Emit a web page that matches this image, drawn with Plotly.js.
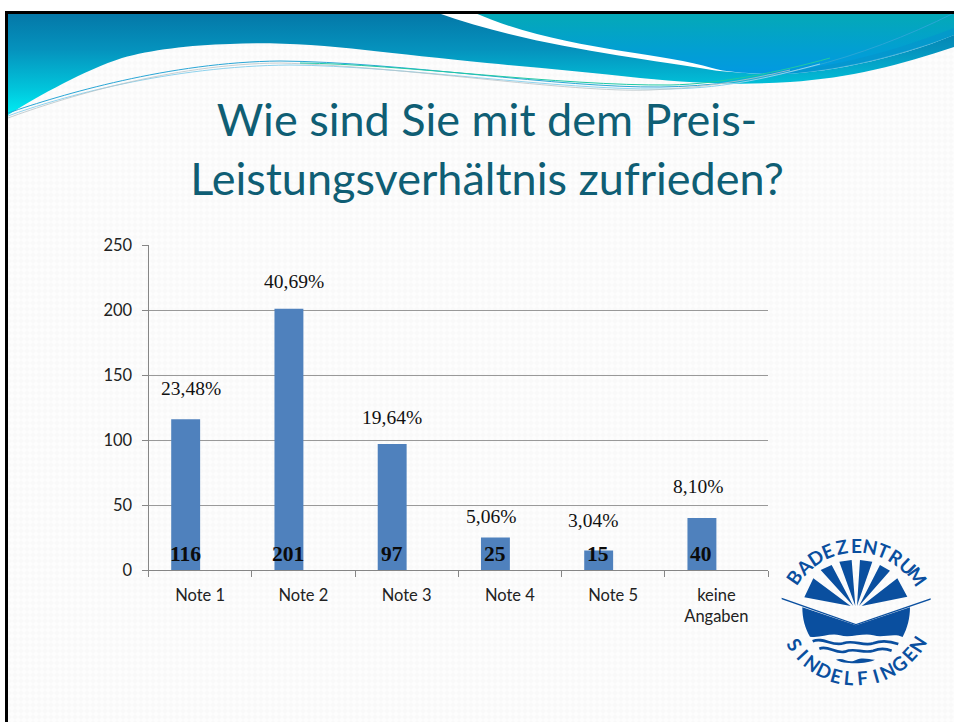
<!DOCTYPE html>
<html><head><meta charset="utf-8">
<script src="https://cdn.plot.ly/plotly-3.0.1.min.js"></script>
<style>html,body{margin:0;padding:0;background:#fff;overflow:hidden}</style>
</head><body><div id="chart" style="width:954px;height:722px"></div>
<script>
const categories = ['Note 1','Note 2','Note 3','Note 4','Note 5','keine<br>Angaben'];
const counts = [116,201,97,25,15,40];
const percentLabels = ['23,48%','40,69%','19,64%','5,06%','3,04%','8,10%'];
const yTicks = [0,50,100,150,200,250];
const titleLines = ['Wie sind Sie mit dem Preis-','Leistungsverhältnis zufrieden?'];
const percentLift = [31,27,26,21,30,32];
const percentShift = [-9,-9,-15,-19,-20,-18];
const logoTop = 'BADEZENTRUM';
const logoBottom = 'SINDELFINGEN';

const W=954,H=722;
const bgSvg = `<svg xmlns="http://www.w3.org/2000/svg" width="954" height="722" viewBox="0 0 954 722">
<defs>
<linearGradient id="a" x1="0" y1="0" x2="0" y2="1"><stop offset="0" stop-color="#0478a8"/><stop offset="0.35" stop-color="#0592bd"/><stop offset="0.75" stop-color="#01c6dc"/><stop offset="1" stop-color="#00eef4"/></linearGradient>
<linearGradient id="b" x1="0" y1="0" x2="0" y2="1"><stop offset="0" stop-color="#04a9b6"/><stop offset="0.55" stop-color="#02a0d0"/><stop offset="1" stop-color="#0299e2"/></linearGradient>
<pattern id="p" width="6" height="6" patternUnits="userSpaceOnUse"><rect width="6" height="6" fill="#fdfdfd"/><path d="M0 3 L3 0 L6 3 L3 6Z" fill="#f9f9f9"/></pattern>
</defs>
<rect width="954" height="722" fill="#fff"/>
<rect x="7" y="12" width="947" height="710" fill="url(#p)"/>
<path d="M8 14 H954 V47 C900 65 850 78 790 82 C745 85 700 84 640 78 C590 72 540 68 487 63 C440 58 400 54 365 50 C320 45 270 42 230 44 C190 45 150 50 122 58 C85 70 40 95 8 115 Z" fill="url(#a)"/>
<path d="M438 13 H954 V35 C890 62 810 76 766 74 C745 73 725 72 712 70 C640 58 530 46 438 13 Z" fill="#ffffff"/>
<path d="M475 13 H954 V35 C890 60 810 76 766 74 C745 73 725 72 712 68 C660 52 560 50 475 13 Z" fill="url(#b)"/>
<path d="M954 35 C900 58 820 76 766 74 L790 70 C850 65 910 45 954 28Z" fill="#0596cc" opacity=".7"/>
<g fill="none" stroke-width="1">
<path d="M8 113 C60 95 170 62 280 61 C400 62 560 88 660 87 C760 86 860 60 954 13" stroke="#2aa6d6"/>
<path d="M8 116 C60 97 170 66 290 65 C400 66 560 90 660 89 C720 89 760 80 820 64" stroke="#8fd3ee"/>
<path d="M8 118 C60 99 170 64 280 63 C400 66 570 93 650 90 C700 88 740 82 790 70" stroke="#b9c4c8" opacity=".8"/>
<path d="M300 63 C400 64 560 86 670 85 C720 84 780 72 830 58" stroke="#1fc9a4"/>
</g>
<rect x="5" y="11" width="949" height="3" fill="#000"/>
<rect x="5" y="11" width="3" height="711" fill="#000"/>
<g transform="translate(760 510) scale(0.3333)" fill="#0a4f9f">
<path d="M133 262 L160 205 L272 288Z M182 180 L215 165 L280 288Z M238 155 L275 150 L286 288Z M300 150 L337 155 L291 288Z M360 165 L390 182 L297 288Z M412 205 L442 260 L305 288Z"/>
<path d="M127 292 L288 346 L450 292 C450 325 442 355 428 381 C400 368 370 385 340 376 C310 368 270 385 240 376 C210 368 180 385 150 380 C135 355 127 325 127 292Z"/>
<path d="M65 263 L288 342 L512 265 L512 269 L288 346 L65 268Z"/>
<g fill="none" stroke="#0a4f9f" stroke-width="8">
<path d="M158 394 C190 380 215 410 250 400 C280 388 310 410 340 400 C370 388 395 395 415 402"/>
<path d="M178 416 C205 405 225 432 255 425 C285 412 310 432 340 422 C360 414 380 416 395 422"/>
</g>
<path d="M228 449 C250 440 265 462 288 450 C310 440 330 450 345 449 C325 462 250 464 228 449Z"/>
</g>
</svg>`;
const bgUri = 'data:image/svg+xml;charset=utf-8,' + encodeURIComponent(bgSvg);

const annotations = [];
counts.forEach((v,i)=>{
  annotations.push({x:i,y:v,xref:'x',yref:'y',text:percentLabels[i],showarrow:false,xshift:percentShift[i],yshift:percentLift[i],xanchor:'center',yanchor:'middle',font:{family:'"Liberation Serif",serif',size:19.5,color:'#111'}});
  annotations.push({x:i,y:0,xref:'x',yref:'y',text:'<b>'+v+'</b>',showarrow:false,xshift:-15,yshift:16,xanchor:'center',yanchor:'middle',font:{family:'"Liberation Serif",serif',size:21.5,color:'#0b0b0b'}});
});
function arcLetters(word,cx,cy,r,a0,a1,top){
  [...word].forEach((ch,i)=>{
    const a=(a0+(a1-a0)*i/(word.length-1))*Math.PI/180;
    const px=cx+r*Math.sin(a), py=top?cy-r*Math.cos(a):cy+r*Math.cos(a);
    annotations.push({x:px/W,y:1-py/H,xref:'paper',yref:'paper',text:'<b>'+ch+'</b>',showarrow:false,xanchor:'center',yanchor:'middle',
      textangle:(top?1:-1)*(a*180/Math.PI),font:{family:'Lato',size:19,color:'#0a4f9f'}});
  });
}
arcLetters(logoTop,856,620,75,-55,55,true);
arcLetters(logoBottom,856,606,72,-58,58,false);

const data=[{type:'bar',x:categories,y:counts,width:0.28,offset:-0.28,marker:{color:'#4f81bd',line:{width:0}},hoverinfo:'x+y'}];
const layout={
 width:W,height:H,margin:{l:0,r:0,t:0,b:0,pad:0},paper_bgcolor:'#fff',plot_bgcolor:'rgba(0,0,0,0)',showlegend:false,
 title:{text:titleLines.join('<br>'),x:487/W,xanchor:'center',xref:'paper',y:1-136/H,yanchor:'middle',yref:'paper',font:{family:'Lato',size:45,color:'#0f5e74'}},
 xaxis:{domain:[148.5/W,768/W],type:'category',tickson:'boundaries',ticks:'outside',ticklen:6,tickcolor:'#868686',linecolor:'#868686',showline:true,showgrid:false,tickfont:{family:'Lato',size:16.5,color:'#222'},tickangle:0,fixedrange:true,zeroline:false,range:[-0.5,5.5],ticklabelstandoff:10},
 yaxis:{domain:[1-570/H,1-245/H],range:[0,250],tickvals:yTicks,ticks:'outside',ticklen:6,tickcolor:'#868686',linecolor:'#868686',showline:true,gridcolor:'#999999',gridwidth:1,zeroline:false,tickfont:{family:'Lato',size:16.5,color:'#222'},fixedrange:true,ticklabelstandoff:6},
 images:[{source:bgUri,xref:'paper',yref:'paper',x:0,y:1,sizex:1,sizey:1,sizing:'stretch',xanchor:'left',yanchor:'top',layer:'below'}],
 annotations
};
Plotly.newPlot('chart',data,layout,{displayModeBar:false,responsive:false});
</script></body></html>
